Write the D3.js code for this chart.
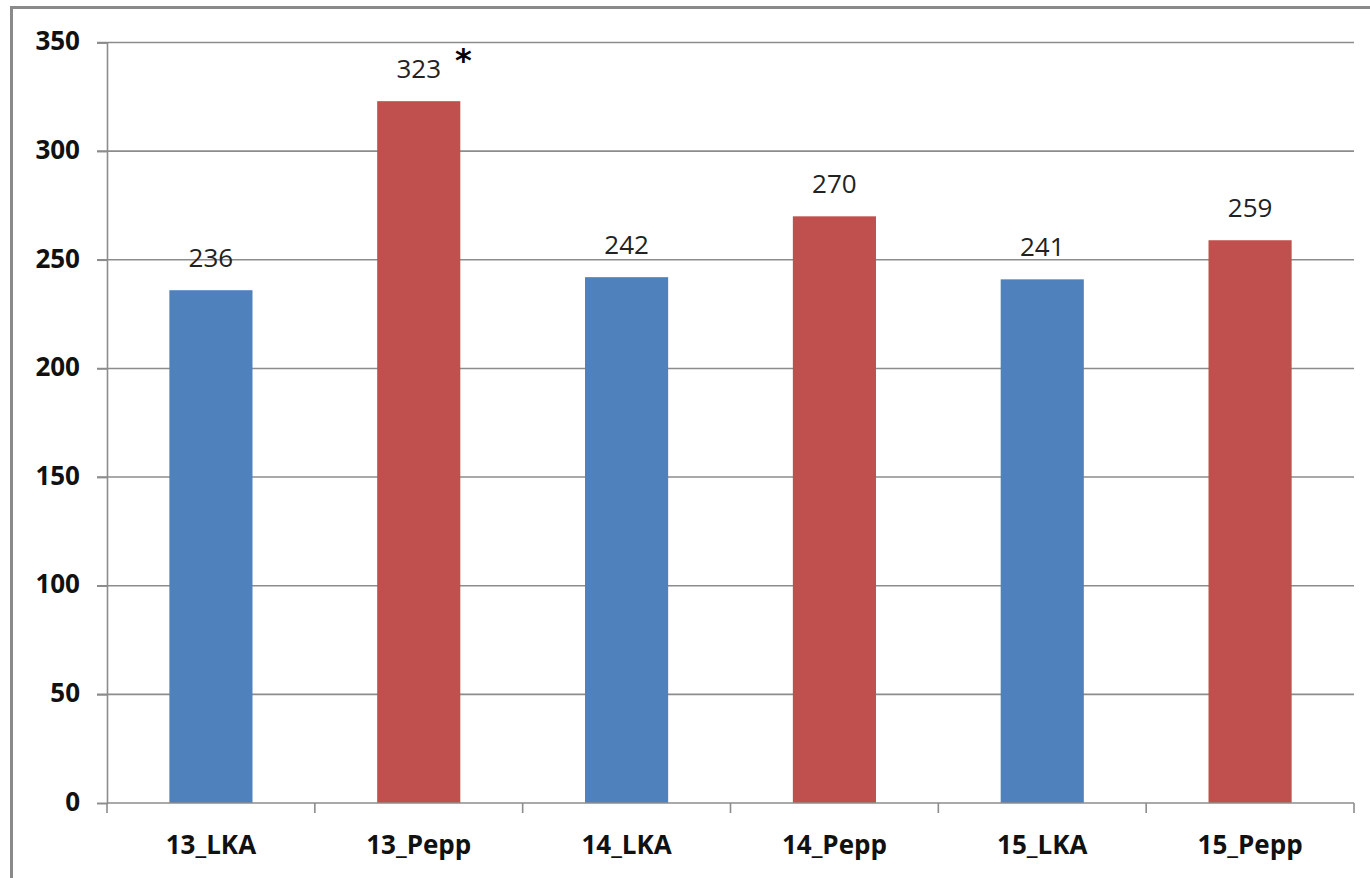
<!DOCTYPE html>
<html>
<head>
<meta charset="utf-8">
<script src="https://cdn.jsdelivr.net/npm/d3@7"></script>
<style>
  html, body { margin: 0; padding: 0; background: #fff; }
  svg { display: block; }
</style>
</head>
<body>
<svg id="chart" width="1370" height="878"></svg>
<script>
// Categories and values
const categories = ["13_LKA", "13_Pepp", "14_LKA", "14_Pepp", "15_LKA", "15_Pepp"];
const values = [236, 323, 242, 270, 241, 259];
const barColors = ["#4F81BD", "#C0504D", "#4F81BD", "#C0504D", "#4F81BD", "#C0504D"];
const yTicks = [0, 50, 100, 150, 200, 250, 300, 350];
const markedCategory = "13_Pepp";   // significance asterisk

const svg = d3.select("#chart");
const margin = { left: 107, right: 1354, top: 42.5, bottom: 803 };
const fontFamily = "'Open Sans', sans-serif";

// Outer frame
svg.append("rect")
  .attr("x", 11.5).attr("y", 7.5)
  .attr("width", 1500).attr("height", 1000)
  .attr("fill", "none")
  .attr("stroke", "#8a8a8a")
  .attr("stroke-width", 3);

const x = d3.scaleBand()
  .domain(categories)
  .range([margin.left, margin.right])
  .paddingInner(0.6)
  .paddingOuter(0.3);

const y = d3.scaleLinear()
  .domain([0, 350])
  .range([margin.bottom, margin.top]);

// Horizontal gridlines
svg.append("g")
  .selectAll("line")
  .data(yTicks.filter(d => d > 0))
  .join("line")
  .attr("x1", margin.left - 10)
  .attr("x2", margin.right)
  .attr("y1", d => y(d))
  .attr("y2", d => y(d))
  .attr("stroke", "#8c8c8c")
  .attr("stroke-width", 1.6);

// Y axis
const yAxis = svg.append("g")
  .attr("transform", `translate(${margin.left},0)`)
  .call(d3.axisLeft(y).tickValues(yTicks).tickSize(10).tickPadding(17));
yAxis.select(".domain").attr("stroke", "#8c8c8c").attr("stroke-width", 1.6);
yAxis.selectAll(".tick line").attr("stroke", "#8c8c8c").attr("stroke-width", 1.6);
yAxis.selectAll(".tick text")
  .attr("font-family", fontFamily)
  .attr("font-weight", "bold")
  .attr("font-size", 26)
  .attr("fill", "#111")
  .attr("dy", "0.28em");

// Bars
svg.append("g")
  .selectAll("rect")
  .data(categories)
  .join("rect")
  .attr("x", d => x(d))
  .attr("width", x.bandwidth())
  .attr("y", (d, i) => y(values[i]))
  .attr("height", (d, i) => y(0) - y(values[i]))
  .attr("fill", (d, i) => barColors[i]);

// X axis with tick marks at category boundaries
const boundaries = d3.range(categories.length + 1)
  .map(i => margin.left + i * (margin.right - margin.left) / categories.length);
svg.append("line")
  .attr("x1", margin.left).attr("x2", margin.right)
  .attr("y1", y(0)).attr("y2", y(0))
  .attr("stroke", "#8c8c8c").attr("stroke-width", 1.6);
svg.append("g")
  .selectAll("line")
  .data(boundaries)
  .join("line")
  .attr("x1", d => d).attr("x2", d => d)
  .attr("y1", y(0)).attr("y2", y(0) + 10)
  .attr("stroke", "#8c8c8c").attr("stroke-width", 1.6);

svg.append("g")
  .selectAll("text")
  .data(categories)
  .join("text")
  .attr("x", d => x(d) + x.bandwidth() / 2)
  .attr("y", 854)
  .attr("text-anchor", "middle")
  .attr("font-family", fontFamily)
  .attr("font-weight", "bold")
  .attr("font-size", 26)
  .attr("fill", "#111")
  .text(d => d);

// Value labels
svg.append("g")
  .selectAll("text")
  .data(categories)
  .join("text")
  .attr("x", d => x(d) + x.bandwidth() / 2)
  .attr("y", (d, i) => y(values[i]) - 23)
  .attr("text-anchor", "middle")
  .attr("font-family", fontFamily)
  .attr("font-size", 26)
  .attr("fill", "#222")
  .text((d, i) => values[i]);

// Asterisk
const mi = categories.indexOf(markedCategory);
svg.append("text")
  .attr("x", x(markedCategory) + x.bandwidth() + 3)
  .attr("y", y(values[mi]) - 30)
  .attr("text-anchor", "middle")
  .attr("font-family", "'DejaVu Sans', sans-serif")
  .attr("font-weight", "bold")
  .attr("font-size", 32)
  .attr("fill", "#000")
  .text("*");
</script>
</body>
</html>
